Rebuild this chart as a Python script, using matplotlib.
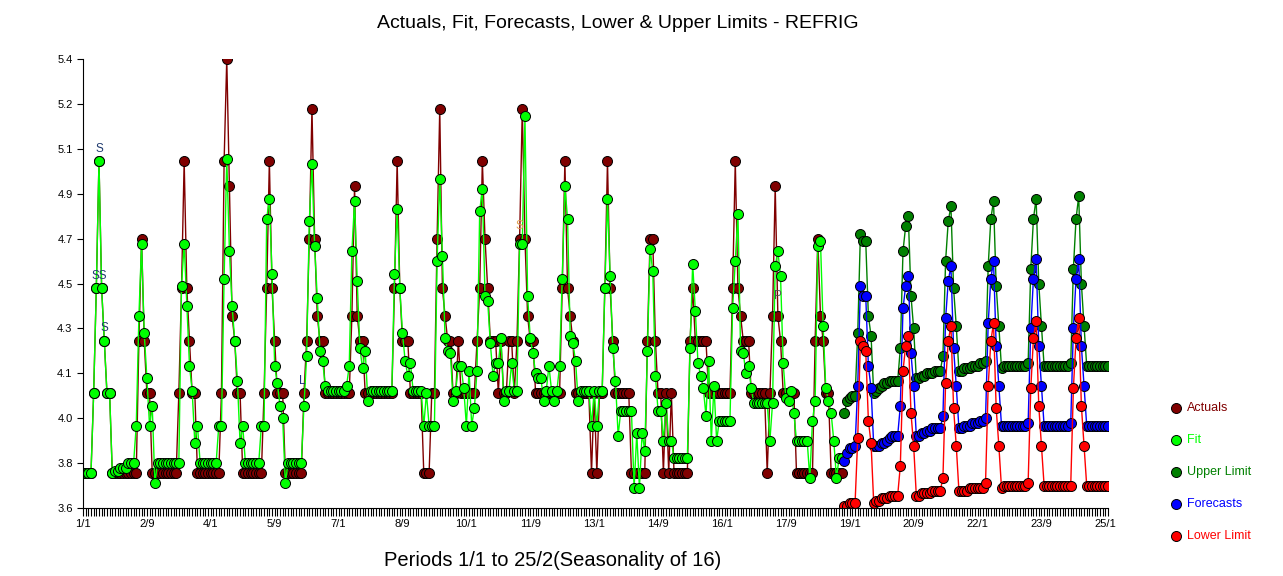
import matplotlib
matplotlib.use("Agg")
import matplotlib.pyplot as plt
from matplotlib.lines import Line2D
import numpy as np

plt.rcParams['font.family'] = ['Liberation Sans', 'DejaVu Sans']

# actual values, periods 1/1 .. 18/14 (one row per season of 16)
actuals = [
    3.74, 3.74, 3.74, 3.74, 4.06, 4.48, 4.99, 4.48, 4.27, 4.06, 4.06, 3.74, 3.74, 3.74, 3.74, 3.74,
    3.74, 3.74, 3.74, 3.74, 3.74, 4.27, 4.68, 4.27, 4.06, 4.06, 3.74, 3.74, 3.74, 3.74, 3.74, 3.74,
    3.74, 3.74, 3.74, 3.74, 4.06, 4.48, 4.99, 4.48, 4.27, 4.06, 4.06, 3.74, 3.74, 3.74, 3.74, 3.74,
    3.74, 3.74, 3.74, 3.74, 4.06, 4.99, 5.40, 4.89, 4.37, 4.27, 4.06, 4.06, 3.74, 3.74, 3.74, 3.74,
    3.74, 3.74, 3.74, 3.74, 4.06, 4.48, 4.99, 4.48, 4.27, 4.06, 4.06, 4.06, 3.74, 3.74, 3.74, 3.74,
    3.74, 3.74, 3.74, 4.06, 4.27, 4.68, 5.20, 4.68, 4.37, 4.27, 4.27, 4.06, 4.06, 4.06, 4.06, 4.06,
    4.06, 4.06, 4.06, 4.06, 4.06, 4.37, 4.89, 4.37, 4.27, 4.27, 4.06, 4.06, 4.06, 4.06, 4.06, 4.06,
    4.06, 4.06, 4.06, 4.06, 4.06, 4.48, 4.99, 4.48, 4.27, 4.27, 4.27, 4.06, 4.06, 4.06, 4.06, 4.06,
    3.74, 3.74, 3.74, 4.06, 4.06, 4.68, 5.20, 4.48, 4.37, 4.27, 4.27, 4.06, 4.06, 4.27, 4.06, 4.06,
    4.06, 4.06, 4.06, 4.06, 4.27, 4.48, 4.99, 4.68, 4.48, 4.27, 4.27, 4.27, 4.06, 4.27, 4.06, 4.06,
    4.27, 4.27, 4.06, 4.27, 4.68, 5.20, 4.68, 4.37, 4.27, 4.27, 4.06, 4.06, 4.06, 4.06, 4.06, 4.06,
    4.06, 4.06, 4.06, 4.06, 4.48, 4.99, 4.48, 4.37, 4.27, 4.06, 4.06, 4.06, 4.06, 4.06, 4.06, 3.74,
    4.06, 3.74, 4.06, 4.06, 4.48, 4.99, 4.48, 4.27, 4.06, 4.06, 4.06, 4.06, 4.06, 4.06, 3.74, 3.74,
    3.74, 3.74, 3.74, 3.74, 4.27, 4.68, 4.68, 4.27, 4.06, 4.06, 3.74, 4.06, 3.74, 4.06, 3.74, 3.74,
    3.74, 3.74, 3.74, 3.74, 4.27, 4.48, 4.27, 4.27, 4.27, 4.27, 4.27, 4.06, 4.06, 4.06, 4.06, 4.06,
    4.06, 4.06, 4.06, 4.06, 4.48, 4.99, 4.48, 4.37, 4.27, 4.27, 4.27, 4.06, 4.06, 4.06, 4.06, 4.06,
    4.06, 3.74, 4.06, 4.37, 4.89, 4.37, 4.27, 4.06, 4.06, 4.06, 4.06, 4.06, 3.74, 3.74, 3.74, 3.74,
    3.74, 3.74, 3.74, 4.27, 4.68, 4.37, 4.27, 4.06, 4.06, 3.74, 3.74, 3.74, 3.74, 3.74,
]

fit = [
    3.74, 3.74, 3.74, 3.74, 4.06, 4.48, 4.99, 4.48, 4.27, 4.06, 4.06, 3.74, 3.75, 3.75, 3.76, 3.76,
    3.76, 3.78, 3.78, 3.78, 3.93, 4.37, 4.66, 4.30, 4.12, 3.93, 4.01, 3.70, 3.78, 3.78, 3.78, 3.78,
    3.78, 3.78, 3.78, 3.78, 3.78, 4.49, 4.66, 4.41, 4.17, 4.07, 3.86, 3.93, 3.78, 3.78, 3.78, 3.78,
    3.78, 3.78, 3.78, 3.93, 3.93, 4.52, 5.00, 4.63, 4.41, 4.27, 4.11, 3.86, 3.93, 3.78, 3.78, 3.78,
    3.78, 3.78, 3.78, 3.93, 3.93, 4.76, 4.84, 4.54, 4.17, 4.10, 4.01, 3.96, 3.70, 3.78, 3.78, 3.78,
    3.78, 3.78, 3.78, 4.01, 4.21, 4.75, 4.98, 4.65, 4.44, 4.23, 4.19, 4.09, 4.07, 4.07, 4.07, 4.07,
    4.07, 4.07, 4.07, 4.09, 4.17, 4.63, 4.83, 4.51, 4.24, 4.16, 4.23, 4.03, 4.07, 4.07, 4.07, 4.07,
    4.07, 4.07, 4.07, 4.07, 4.07, 4.54, 4.80, 4.48, 4.30, 4.19, 4.13, 4.18, 4.07, 4.07, 4.07, 4.07,
    3.93, 4.06, 3.93, 3.93, 3.93, 4.59, 4.92, 4.61, 4.28, 4.23, 4.22, 4.03, 4.07, 4.17, 4.17, 4.08,
    3.93, 4.15, 3.93, 4.00, 4.15, 4.79, 4.88, 4.45, 4.43, 4.26, 4.13, 4.18, 4.18, 4.28, 4.03, 4.07,
    4.07, 4.18, 4.07, 4.07, 4.66, 4.66, 5.17, 4.45, 4.28, 4.22, 4.14, 4.12, 4.12, 4.03, 4.07, 4.17,
    4.07, 4.03, 4.07, 4.17, 4.52, 4.89, 4.76, 4.29, 4.26, 4.19, 4.03, 4.07, 4.07, 4.07, 4.07, 3.93,
    4.07, 3.93, 4.07, 4.07, 4.48, 4.84, 4.53, 4.24, 4.11, 3.89, 3.99, 3.99, 3.99, 3.99, 3.99, 3.68,
    3.90, 3.68, 3.90, 3.83, 4.23, 4.64, 4.55, 4.13, 3.99, 3.99, 3.87, 4.02, 3.87, 3.87, 3.80, 3.80,
    3.80, 3.80, 3.80, 3.80, 4.24, 4.58, 4.39, 4.18, 4.13, 4.08, 3.97, 4.19, 3.87, 4.09, 3.87, 3.95,
    3.95, 3.95, 3.95, 3.95, 4.40, 4.59, 4.78, 4.23, 4.22, 4.14, 4.17, 4.08, 4.02, 4.02, 4.02, 4.02,
    4.02, 4.02, 3.87, 4.02, 4.57, 4.63, 4.53, 4.18, 4.04, 4.03, 4.07, 3.98, 3.87, 3.87, 3.87, 3.87,
    3.87, 3.72, 3.95, 4.03, 4.65, 4.67, 4.33, 4.08, 4.03, 3.98, 3.87, 3.72, 3.80, 3.80,
]

# forecast horizon, periods 18/15 .. 25/2
forecasts = [
    3.79, 3.82,
    3.84, 3.84, 3.85, 4.09, 4.49, 4.45, 4.45, 4.17, 4.08, 3.85, 3.85, 3.85, 3.86, 3.86, 3.87, 3.88,
    3.89, 3.89, 3.89, 4.01, 4.40, 4.49, 4.53, 4.22, 4.09, 3.89, 3.89, 3.90, 3.90, 3.91, 3.91, 3.92,
    3.92, 3.92, 3.92, 3.97, 4.36, 4.51, 4.57, 4.24, 4.09, 3.92, 3.92, 3.93, 3.93, 3.93, 3.94, 3.94,
    3.94, 3.95, 3.95, 3.96, 4.34, 4.52, 4.59, 4.25, 4.09, 3.93, 3.93, 3.93, 3.93, 3.93, 3.93, 3.93,
    3.93, 3.93, 3.93, 3.94, 4.32, 4.52, 4.60, 4.25, 4.09, 3.93, 3.93, 3.93, 3.93, 3.93, 3.93, 3.93,
    3.93, 3.93, 3.93, 3.94, 4.32, 4.52, 4.60, 4.25, 4.09, 3.93, 3.93, 3.93, 3.93, 3.93, 3.93, 3.93,
    3.93, 3.93,
]

upper = [
    3.98, 4.03,
    4.04, 4.05, 4.05, 4.30, 4.70, 4.67, 4.67, 4.37, 4.29, 4.06, 4.07, 4.08, 4.09, 4.10, 4.10, 4.11,
    4.11, 4.11, 4.11, 4.24, 4.63, 4.73, 4.77, 4.45, 4.32, 4.12, 4.12, 4.13, 4.13, 4.14, 4.14, 4.14,
    4.15, 4.15, 4.15, 4.21, 4.59, 4.75, 4.81, 4.48, 4.33, 4.15, 4.15, 4.16, 4.16, 4.16, 4.17, 4.17,
    4.17, 4.18, 4.18, 4.19, 4.57, 4.76, 4.83, 4.49, 4.33, 4.16, 4.17, 4.17, 4.17, 4.17, 4.17, 4.17,
    4.17, 4.17, 4.17, 4.18, 4.56, 4.76, 4.84, 4.50, 4.33, 4.17, 4.17, 4.17, 4.17, 4.17, 4.17, 4.17,
    4.17, 4.17, 4.17, 4.18, 4.56, 4.76, 4.85, 4.50, 4.33, 4.17, 4.17, 4.17, 4.17, 4.17, 4.17, 4.17,
    4.17, 4.17,
]

lower = [
    3.61, 3.61,
    3.62, 3.62, 3.62, 3.88, 4.27, 4.25, 4.23, 3.95, 3.86, 3.62, 3.63, 3.63, 3.64, 3.64, 3.64, 3.65,
    3.65, 3.65, 3.65, 3.77, 4.15, 4.25, 4.29, 3.98, 3.85, 3.65, 3.65, 3.66, 3.66, 3.66, 3.66, 3.67,
    3.67, 3.67, 3.67, 3.72, 4.10, 4.27, 4.33, 4.00, 3.85, 3.67, 3.67, 3.67, 3.67, 3.68, 3.68, 3.68,
    3.68, 3.68, 3.68, 3.70, 4.09, 4.27, 4.34, 4.00, 3.85, 3.68, 3.69, 3.69, 3.69, 3.69, 3.69, 3.69,
    3.69, 3.69, 3.69, 3.70, 4.08, 4.28, 4.35, 4.01, 3.85, 3.69, 3.69, 3.69, 3.69, 3.69, 3.69, 3.69,
    3.69, 3.69, 3.69, 3.69, 4.08, 4.28, 4.36, 4.01, 3.85, 3.69, 3.69, 3.69, 3.69, 3.69, 3.69, 3.69,
    3.69, 3.69,
]

season_labels = ['1/1', '2/9', '4/1', '5/9', '7/1', '8/9', '10/1', '11/9', '13/1',
                 '14/9', '16/1', '17/9', '19/1', '20/9', '22/1', '23/9', '25/1']
y_labels = ['3.6', '3.8', '4.0', '4.1', '4.3', '4.5', '4.7', '4.9', '5.1', '5.2', '5.4']

# flags written next to some points: (period index, value, text, colour)
flags = [(6, 4.53, 'SS', '#1f3a6e'), (6, 5.04, 'S', '#1f3a6e'),
         (8, 4.32, 'S', '#1f3a6e'), (82.5, 4.11, 'L', '#1f2a80'), (164, 4.73, 'S', '#e0a050'),
         (261, 4.45, 'P', '#505050')]

x_act = np.arange(len(actuals))
x_fc = np.arange(len(actuals), len(actuals) + len(forecasts))

fig = plt.figure(figsize=(12.83, 5.76), dpi=100)
ax = fig.add_axes([83 / 1283, 1 - 508 / 576, 1025 / 1283, 449 / 576])

mk = dict(marker='o', ms=7.2, mec='black', mew=0.7, lw=1)
ax.plot(x_act, actuals, color='#800000', mfc='#800000', **mk)
ax.plot(x_act, fit, color='#00ff00', mfc='#00ff00', **mk)
ax.plot(x_fc, upper, color='#008000', mfc='#008000', **mk)
ax.plot(x_fc, forecasts, color='#0000ff', mfc='#0000ff', **mk)
ax.plot(x_fc, lower, color='#ff0000', mfc='#ff0000', **mk)

for i, v, t, c in flags:
    ax.text(i, v, t, color=c, fontsize=8.5, ha='center', va='center')

ax.set_xlim(0, 385)
ax.set_ylim(3.6, 5.4)
ax.set_xticks(np.arange(0, 385, 24))
ax.set_xticklabels(season_labels, fontsize=8)
ax.set_xticks(np.arange(0, 386, 1), minor=True)
ax.set_yticks(np.linspace(3.6, 5.4, 11))
ax.set_yticklabels(y_labels, fontsize=8)
ax.tick_params(axis='x', which='both', length=6, width=0.8, pad=2)
ax.tick_params(axis='y', length=4, width=0.8)
for s in ['top', 'right']:
    ax.spines[s].set_visible(False)

fig.text(618 / 1283, 1 - 24 / 576, 'Actuals, Fit, Forecasts, Lower & Upper Limits - REFRIG',
         ha='center', va='center', fontsize=14)
fig.text(553 / 1283, 1 - 561 / 576, 'Periods 1/1 to 25/2(Seasonality of 16)',
         ha='center', va='center', fontsize=14.5)

legend_items = [('Actuals', '#800000'), ('Fit', '#00ff00'), ('Upper Limit', '#008000'),
                ('Forecasts', '#0000ff'), ('Lower Limit', '#ff0000')]
for k, (name, c) in enumerate(legend_items):
    yy = 1 - (408 + 32 * k) / 576
    fig.add_artist(Line2D([1176 / 1283], [yy], marker='o', ms=7.2, mfc=c, mec='black',
                          mew=0.7, transform=fig.transFigure))
    fig.text(1187 / 1283, yy, name, color=c, fontsize=9, va='center')

fig.savefig('out.png', dpi=100)
